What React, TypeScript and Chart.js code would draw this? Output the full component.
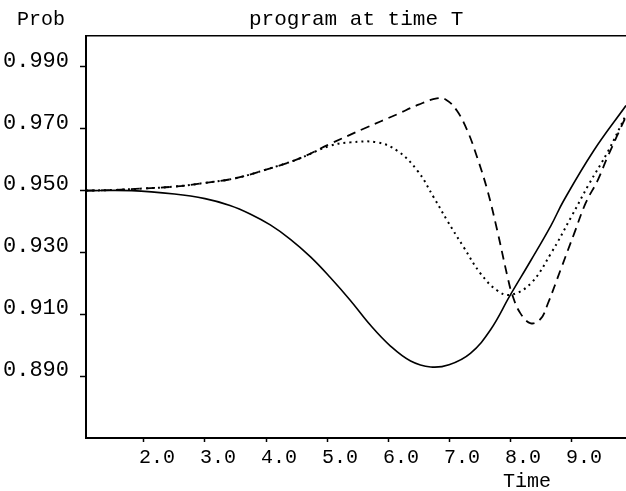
import React, { useEffect, useRef } from "react";
import { Chart, registerables } from "chart.js";

Chart.register(...registerables);

const X_TICKS = [2, 3, 4, 5, 6, 7, 8, 9];
const Y_TICKS = [0.89, 0.91, 0.93, 0.95, 0.97, 0.99];

const T_SOLID = [1.05, 1.8, 2.5, 3.0, 3.41, 3.74, 4.07, 4.4, 4.73, 5.05, 5.38, 5.71, 6.04, 6.37, 6.7, 7.0, 7.35, 7.68, 8.0, 8.34, 8.67, 8.88, 9.37, 9.9];
const P_SOLID = [0.95, 0.95, 0.9489, 0.9474, 0.9452, 0.94245, 0.9389, 0.93426, 0.92858, 0.922, 0.91458, 0.90652, 0.89974, 0.8949, 0.89297, 0.8937, 0.8974, 0.905, 0.9161, 0.9274, 0.9387, 0.9468, 0.9629, 0.9775];

const T_DASHED = [1.05, 1.5, 2.0, 2.5, 3.0, 3.5, 4.0, 4.5, 5.05, 5.6, 6.15, 6.5, 6.8, 6.95, 7.13, 7.3, 7.46, 7.63, 7.79, 7.96, 8.04, 8.17, 8.34, 8.5, 8.62, 8.83, 9.05, 9.24, 9.44, 9.6, 9.9];
const P_DASHED = [0.95, 0.9502, 0.9507, 0.9513, 0.9525, 0.954, 0.9568, 0.96, 0.9651, 0.97, 0.9747, 0.9778, 0.9798, 0.9794, 0.9758, 0.9694, 0.9608, 0.95, 0.9371, 0.922, 0.9161, 0.9103, 0.9071, 0.9085, 0.9135, 0.9245, 0.9361, 0.946, 0.9535, 0.961, 0.974];

const T_DOTTED = [1.05, 1.5, 2.0, 2.5, 3.0, 3.5, 4.0, 4.5, 5.05, 5.38, 5.82, 6.15, 6.48, 6.75, 6.97, 7.24, 7.52, 7.79, 8.01, 8.34, 8.67, 9.0, 9.29, 9.6, 9.9];
const P_DOTTED = [0.95, 0.9502, 0.9507, 0.9513, 0.9525, 0.954, 0.9568, 0.96, 0.9645, 0.9656, 0.9656, 0.9629, 0.9565, 0.9478, 0.9403, 0.9317, 0.9231, 0.9177, 0.9163, 0.92, 0.9297, 0.9414, 0.952, 0.9625, 0.9745];

const TITLE = "program at time T";
const Y_LABEL = "Prob";
const X_LABEL = "Time";

const FONT = "'Liberation Mono', 'Courier New', monospace";

const pts = (t: number[], p: number[]) => t.map((x, i) => ({ x, y: p[i] }));

const textPlugin = {
  id: "texts",
  afterDraw(chart: any) {
    const ctx = chart.ctx;
    ctx.save();
    ctx.fillStyle = "#000";
    ctx.textBaseline = "alphabetic";
    ctx.textAlign = "left";
    ctx.font = `20px ${FONT}`;
    ctx.fillText(Y_LABEL, 17, 25);
    ctx.font = `21px ${FONT}`;
    ctx.fillText(TITLE, 249, 25);
    ctx.font = `20px ${FONT}`;
    ctx.fillText(X_LABEL, 503, 487);
    ctx.restore();
  },
};

export default function App() {
  const ref = useRef<HTMLCanvasElement | null>(null);
  useEffect(() => {
    document.body.style.margin = "0";
    const line = (data: any, dash: number[], width: number) => ({
      data,
      borderColor: "#000",
      borderWidth: width,
      borderDash: dash,
      pointRadius: 0,
      fill: false,
      tension: 0.4,
      borderCapStyle: "butt",
    });
    const chart = new Chart(ref.current as HTMLCanvasElement, {
      type: "line",
      data: {
        datasets: [
          line(pts(T_SOLID, P_SOLID), [], 1.6),
          line(pts(T_DASHED, P_DASHED), [9, 6], 1.8),
          line(pts(T_DOTTED, P_DOTTED), [2, 4], 2),
        ] as any,
      },
      options: {
        animation: false,
        responsive: false,
        devicePixelRatio: 1,
        parsing: false,
        layout: { padding: 0 },
        plugins: { legend: { display: false }, tooltip: { enabled: false }, title: { display: false } },
        scales: {
          x: {
            type: "linear",
            position: "bottom",
            min: 1.05,
            max: 9.9,
            afterBuildTicks: (s: any) => {
              s.ticks = X_TICKS.map((v) => ({ value: v }));
            },
            afterFit: (s: any) => {
              s.height = 53;
            },
            grid: { drawOnChartArea: false, drawTicks: true, tickLength: 4, color: "#000", tickWidth: 1.5 },
            border: { display: true, color: "#000", width: 2 },
            ticks: {
              font: { family: FONT, size: 20 },
              color: "#000",
              padding: 4,
              labelOffset: 13,
              maxRotation: 0,
              autoSkip: false,
              callback: (v: any) => Number(v).toFixed(1),
            },
          },
          x2: {
            type: "linear",
            position: "top",
            min: 1.05,
            max: 9.9,
            afterFit: (s: any) => {
              s.height = 36;
            },
            grid: { drawOnChartArea: false, drawTicks: false },
            border: { display: true, color: "#000", width: 1.5 },
            ticks: { display: false },
          },
          y: {
            type: "linear",
            position: "left",
            min: 0.87,
            max: 1.0,
            afterBuildTicks: (s: any) => {
              s.ticks = Y_TICKS.map((v) => ({ value: v }));
            },
            afterFit: (s: any) => {
              s.width = 86;
            },
            grid: { drawOnChartArea: false, drawTicks: true, tickLength: 6, color: "#000", tickWidth: 1.5 },
            border: { display: true, color: "#000", width: 2 },
            ticks: {
              font: { family: FONT, size: 22 },
              color: "#000",
              padding: 11,
              labelOffset: -6,
              autoSkip: false,
              callback: (v: any) => Number(v).toFixed(3),
            },
          },
        },
      } as any,
      plugins: [textPlugin],
    });
    return () => chart.destroy();
  }, []);
  return <canvas ref={ref} width={626} height={491} style={{ display: "block", width: 626, height: 491 }} />;
}
